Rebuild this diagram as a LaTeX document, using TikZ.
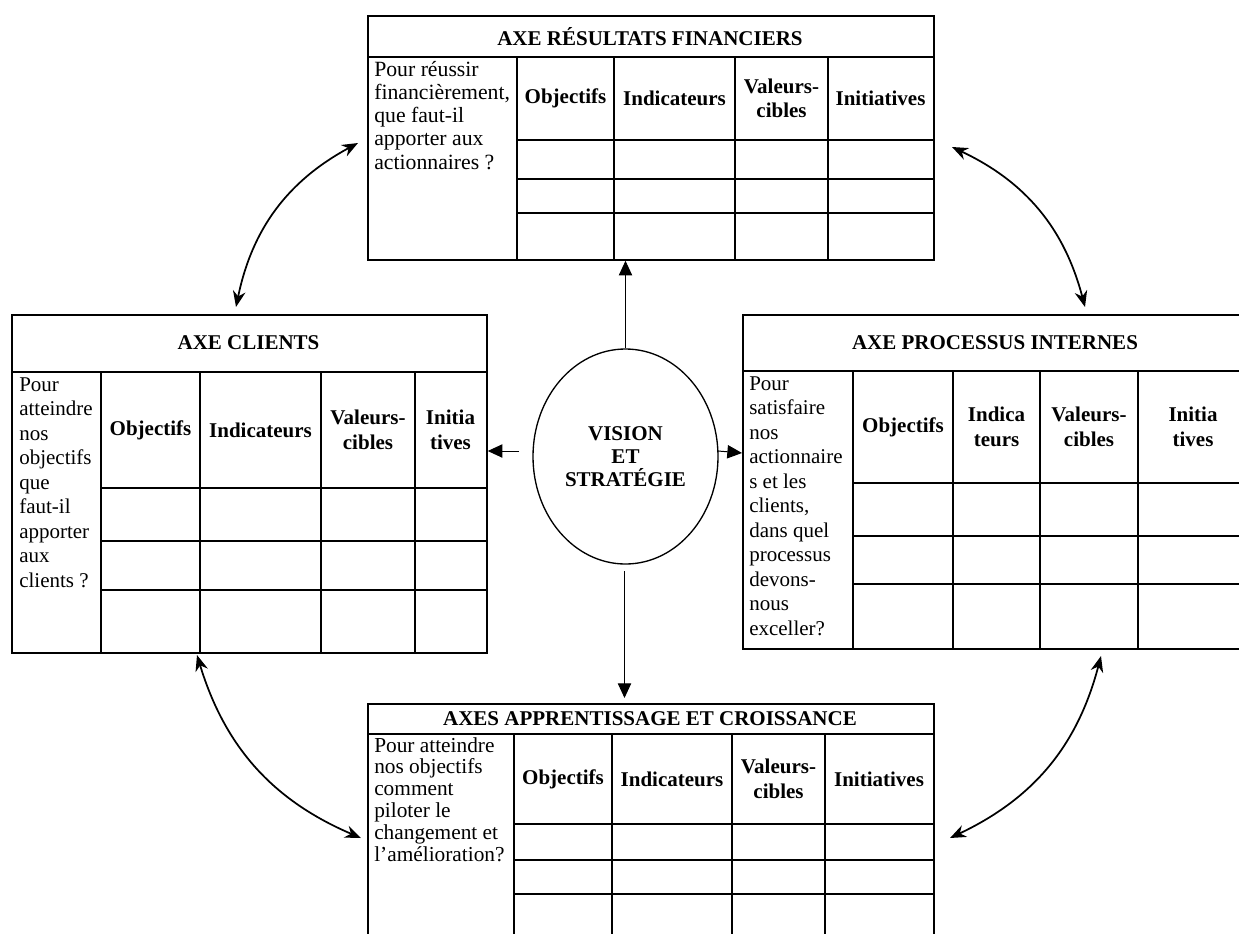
\documentclass[tikz,border=0pt]{standalone}
\usepackage{fontspec}
\setmainfont{Liberation Serif}
\usetikzlibrary{arrows.meta,shapes.geometric,calc}
\begin{document}
\begin{tikzpicture}[x=0.75pt,y=0.75pt,
  gridline/.style={line width=1.3pt},
  boxframe/.style={draw,line width=1.3pt,anchor=north west,inner sep=0pt},
  ttl/.style={font=\fontsize{15.75}{18}\selectfont\bfseries,inner sep=0pt},
  hdr/.style={font=\fontsize{15.75}{18.4}\selectfont\bfseries,align=center,inner sep=0pt},
  qtxt/.style={font=\fontsize{15.75}{18.4}\selectfont,align=left,anchor=north west,inner sep=0pt},
  sarrow/.style={line width=0.75pt,-{Triangle[length=11pt,width=10pt]}},
  carrow/.style={line width=1.3pt,{Stealth[length=12pt,width=9.5pt]}-{Stealth[length=12pt,width=9.5pt]}}]
\useasboundingbox (0,0) rectangle (1239,-933);
\fill[white] (0,0) rectangle (1239,-933);

% ---------- top box : financial
\node[boxframe,minimum width=424.5pt,minimum height=183pt] (fin) at (367,-15) {};
\draw[gridline] (367,-57) -- (933,-57);
\draw[gridline] (517,-140) -- (933,-140) (517,-179) -- (933,-179) (517,-213) -- (933,-213);
\foreach \x in {517,614,735,828} \draw[gridline] (\x,-57) -- (\x,-259);
\node[ttl] (finT) at (650,-37) {AXE RÉSULTATS FINANCIERS};
\node[hdr] (finH1) at (565.5,-98.5) {Objectifs};
\node[hdr] (finH2) at (674.5,-98.5) {Indicateurs};
\node[hdr] (finH3) at (781.5,-98.5) {Valeurs-\\cibles};
\node[hdr] (finH4) at (880.5,-98.5) {Initiatives};
\node[qtxt,font=\fontsize{16.3}{17.4}\selectfont] (finQ) at (374,-61) {Pour réussir\\financièrement,\\que faut-il\\apporter aux\\actionnaires ?};

% ---------- left box : clients
\node[boxframe,minimum width=356.25pt,minimum height=253.5pt] (cli) at (11,-314) {};
\draw[gridline] (11,-372) -- (486,-372);
\draw[gridline] (101,-488) -- (486,-488) (101,-541) -- (486,-541) (101,-590) -- (486,-590);
\foreach \x in {101,200,321,415} \draw[gridline] (\x,-372) -- (\x,-652);
\node[ttl] (cliT) at (248.5,-343) {AXE CLIENTS};
\node[hdr] (cliH1) at (150.5,-430) {Objectifs};
\node[hdr] (cliH2) at (260.5,-430) {Indicateurs};
\node[hdr] (cliH3) at (368,-430) {Valeurs-\\cibles};
\node[hdr] (cliH4) at (450.5,-430) {Initia\\tives};
\node[qtxt] (cliQ) at (19,-377) {Pour\\atteindre\\nos\\objectifs\\que\\faut-il\\apporter\\aux\\clients ?};

% ---------- right box : internal processes
\node[boxframe,minimum width=379.5pt,minimum height=250.5pt] (pro) at (742,-314) {};
\draw[gridline] (742,-371) -- (1248,-371);
\draw[gridline] (853,-483) -- (1248,-483) (853,-536) -- (1248,-536) (853,-584) -- (1248,-584);
\foreach \x in {853,953,1040,1138} \draw[gridline] (\x,-371) -- (\x,-648);
\node[ttl] (proT) at (995,-342.5) {AXE PROCESSUS INTERNES};
\node[hdr] (proH1) at (903,-427) {Objectifs};
\node[hdr] (proH2) at (996.5,-427) {Indica\\teurs};
\node[hdr] (proH3) at (1089,-427) {Valeurs-\\cibles};
\node[hdr] (proH4) at (1193,-427) {Initia\\tives};
\node[qtxt] (proQ) at (749,-376) {Pour\\satisfaire\\nos\\actionnaire\\s et les\\clients,\\dans quel\\processus\\devons-\\nous\\exceller?};

% ---------- bottom box : learning
\node[boxframe,minimum width=424.5pt,minimum height=187.5pt] (app) at (367,-703) {};
\draw[gridline] (367,-734) -- (933,-734);
\draw[gridline] (514,-824) -- (933,-824) (514,-860) -- (933,-860) (514,-894) -- (933,-894);
\foreach \x in {514,612,732,825} \draw[gridline] (\x,-734) -- (\x,-953);
\node[ttl] (appT) at (650,-719) {AXES APPRENTISSAGE ET CROISSANCE};
\node[hdr] (appH1) at (563,-779) {Objectifs};
\node[hdr] (appH2) at (672,-779) {Indicateurs};
\node[hdr] (appH3) at (778.5,-779) {Valeurs-\\cibles};
\node[hdr] (appH4) at (879,-779) {Initiatives};
\node[qtxt,font=\fontsize{16}{16.4}\selectfont] (appQ) at (374,-737) {Pour atteindre\\nos objectifs\\comment\\piloter le\\changement et\\l’amélioration?};

% ---------- centre
\node[ellipse,draw,line width=1pt,minimum width=138.75pt,minimum height=161.25pt,inner sep=0pt,
      font=\fontsize{15.75}{17.25}\selectfont\bfseries,align=center] (vis) at (625.5,-456.5) {VISION\\ET\\STRATÉGIE};

% straight arrows
\draw[sarrow] (vis.north) -- (vis.north |- fin.south);
\coordinate (dstart) at (624.5,-571);
\draw[sarrow,shorten >=3.75pt] (dstart) -- (dstart |- app.north);
\coordinate (lstart) at (519,-451);
\draw[sarrow] (lstart) -- (lstart -| cli.east);
\coordinate (rstart) at (718,-451);
\coordinate (rend) at ($(pro.west)+(0,-2.5)$);
\draw[sarrow] (rstart) -- (rend |- 0,-453);

% curved double arrows
\coordinate (c1a) at (358,-143);
\coordinate (c1b) at (236,-307);
\coordinate (c2a) at (952,-147);
\coordinate (c2b) at (1085,-307);
\coordinate (c3a) at (197,-655);
\coordinate (c3b) at (361,-838);
\coordinate (c4a) at (1101,-656);
\coordinate (c4b) at (950,-838);
\draw[carrow] (c1a) to[bend right=25] (c1b);
\draw[carrow] (c2a) to[bend left=25] (c2b);
\draw[carrow] (c3a) to[bend right=25] (c3b);
\draw[carrow] (c4a) to[bend left=25] (c4b);
\end{tikzpicture}
\end{document}
